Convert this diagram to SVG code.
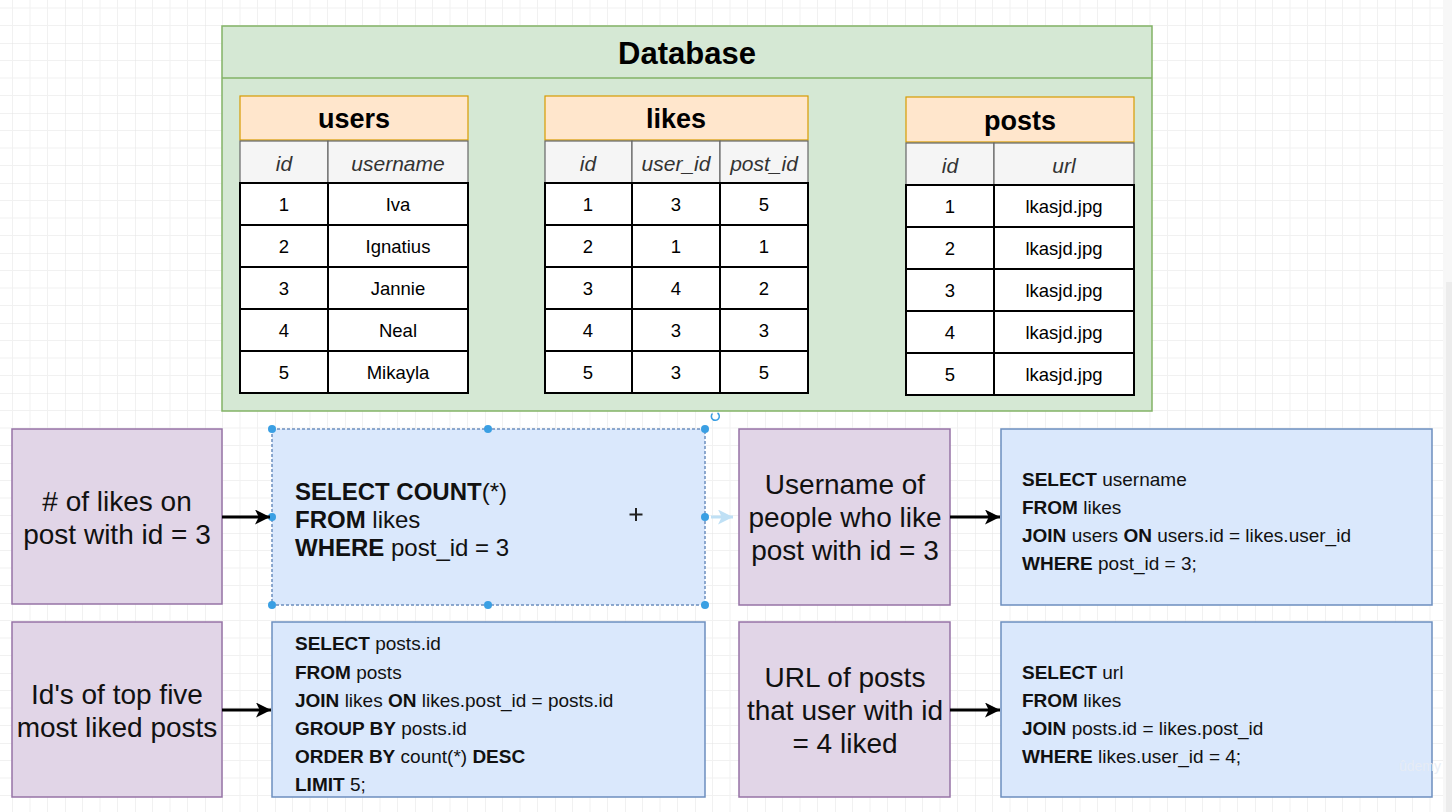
<svg xmlns="http://www.w3.org/2000/svg" width="1452" height="812" viewBox="0 0 1452 812">
<defs>
  <pattern id="grid" x="65" y="43" width="70" height="70" patternUnits="userSpaceOnUse">
    <path d="M17.5 0V70M35 0V70M52.5 0V70M0 17.5H70M0 35H70M0 52.5H70" stroke="#f1f1f1" stroke-width="1" fill="none"/>
    <path d="M0 0V70M0 0H70" stroke="#e4e4e4" stroke-width="1" fill="none"/>
  </pattern>
  <marker id="arr" viewBox="0 0 10 10" refX="10" refY="5" markerWidth="5" markerHeight="5" orient="auto" markerUnits="strokeWidth">
    <path d="M0 0L10 5L0 10L2.5 5Z" fill="#000"/>
  </marker>
  <marker id="arrl" viewBox="0 0 10 10" refX="10" refY="5" markerWidth="5" markerHeight="5" orient="auto" markerUnits="strokeWidth">
    <path d="M0 0L10 5L0 10L2.5 5Z" fill="#bfe0f5"/>
  </marker>
</defs>
<style>
  .t{font-family:"Liberation Sans",Arial,sans-serif;}
  .db{fill:#d5e8d4;stroke:#82b366;stroke-width:1.5;}
  .th{fill:#ffe6cc;stroke:#d79b00;stroke-width:1.2;}
  .ch{fill:#f5f5f5;stroke:#666;stroke-width:1.2;}
  .cell{fill:#fff;stroke:#000;stroke-width:2;}
  .ttl{font-family:"Liberation Sans",Arial,sans-serif;font-weight:bold;font-size:27px;text-anchor:middle;fill:#000;}
  .hd{font-family:"Liberation Sans",Arial,sans-serif;font-style:italic;font-size:21px;text-anchor:middle;fill:#333;}
  .dt{font-family:"Liberation Sans",Arial,sans-serif;font-size:18.5px;text-anchor:middle;fill:#000;}
  .q{fill:#e1d5e7;stroke:#9673a6;stroke-width:1.5;}
  .qt{font-family:"Liberation Sans",Arial,sans-serif;font-size:28px;text-anchor:middle;fill:#111;}
  .s{fill:#dae8fc;stroke:#6c8ebf;stroke-width:1.5;}
  .sql{font-family:"Liberation Sans",Arial,sans-serif;font-size:19px;fill:#111;}
  .sqlb{font-family:"Liberation Sans",Arial,sans-serif;font-size:24px;fill:#111;}
  .b{font-weight:bold;}
  .con{stroke:#000;stroke-width:3;fill:none;}
  .hdl{fill:#3a9fe3;}
</style>
<rect width="1452" height="812" fill="#fff"/>
<rect width="1452" height="812" fill="url(#grid)"/>
<rect x="1443" y="0" width="9" height="812" fill="#f7f7f7"/>
<rect x="1446" y="282" width="6" height="530" fill="#ececec"/>

<g id="database">
  <rect class="db" x="222" y="26" width="930" height="385"/>
  <line x1="222" y1="78" x2="1152" y2="78" stroke="#82b366" stroke-width="1.5"/>
  <text class="t" x="687" y="64" font-size="31" font-weight="bold" text-anchor="middle" fill="#000">Database</text>
</g>

<g id="users">
  <rect class="th" x="240" y="96" width="228" height="44"/>
  <text class="ttl" x="354" y="128">users</text>
  <rect class="ch" x="240" y="141" width="88" height="42"/>
  <rect class="ch" x="328" y="141" width="140" height="42"/>
  <text class="hd" x="284" y="171">id</text>
  <text class="hd" x="398" y="171">username</text>
  <g>
    <rect class="cell" x="240" y="183" width="88" height="42"/><rect class="cell" x="328" y="183" width="140" height="42"/>
    <rect class="cell" x="240" y="225" width="88" height="42"/><rect class="cell" x="328" y="225" width="140" height="42"/>
    <rect class="cell" x="240" y="267" width="88" height="42"/><rect class="cell" x="328" y="267" width="140" height="42"/>
    <rect class="cell" x="240" y="309" width="88" height="42"/><rect class="cell" x="328" y="309" width="140" height="42"/>
    <rect class="cell" x="240" y="351" width="88" height="42"/><rect class="cell" x="328" y="351" width="140" height="42"/>
  </g>
  <text class="dt" x="284" y="211">1</text><text class="dt" x="398" y="211">Iva</text>
  <text class="dt" x="284" y="253">2</text><text class="dt" x="398" y="253">Ignatius</text>
  <text class="dt" x="284" y="295">3</text><text class="dt" x="398" y="295">Jannie</text>
  <text class="dt" x="284" y="337">4</text><text class="dt" x="398" y="337">Neal</text>
  <text class="dt" x="284" y="379">5</text><text class="dt" x="398" y="379">Mikayla</text>
</g>

<g id="likes">
  <rect class="th" x="545" y="96" width="263" height="44"/>
  <text class="ttl" x="676" y="128">likes</text>
  <rect class="ch" x="545" y="141" width="87" height="42"/>
  <rect class="ch" x="632" y="141" width="88" height="42"/>
  <rect class="ch" x="720" y="141" width="88" height="42"/>
  <text class="hd" x="588" y="171">id</text>
  <text class="hd" x="676" y="171">user_id</text>
  <text class="hd" x="764" y="171">post_id</text>
  <g>
    <rect class="cell" x="545" y="183" width="87" height="42"/><rect class="cell" x="632" y="183" width="88" height="42"/><rect class="cell" x="720" y="183" width="88" height="42"/>
    <rect class="cell" x="545" y="225" width="87" height="42"/><rect class="cell" x="632" y="225" width="88" height="42"/><rect class="cell" x="720" y="225" width="88" height="42"/>
    <rect class="cell" x="545" y="267" width="87" height="42"/><rect class="cell" x="632" y="267" width="88" height="42"/><rect class="cell" x="720" y="267" width="88" height="42"/>
    <rect class="cell" x="545" y="309" width="87" height="42"/><rect class="cell" x="632" y="309" width="88" height="42"/><rect class="cell" x="720" y="309" width="88" height="42"/>
    <rect class="cell" x="545" y="351" width="87" height="42"/><rect class="cell" x="632" y="351" width="88" height="42"/><rect class="cell" x="720" y="351" width="88" height="42"/>
  </g>
  <text class="dt" x="588" y="211">1</text><text class="dt" x="676" y="211">3</text><text class="dt" x="764" y="211">5</text>
  <text class="dt" x="588" y="253">2</text><text class="dt" x="676" y="253">1</text><text class="dt" x="764" y="253">1</text>
  <text class="dt" x="588" y="295">3</text><text class="dt" x="676" y="295">4</text><text class="dt" x="764" y="295">2</text>
  <text class="dt" x="588" y="337">4</text><text class="dt" x="676" y="337">3</text><text class="dt" x="764" y="337">3</text>
  <text class="dt" x="588" y="379">5</text><text class="dt" x="676" y="379">3</text><text class="dt" x="764" y="379">5</text>
</g>

<g id="posts">
  <rect class="th" x="906" y="97" width="228" height="45"/>
  <text class="ttl" x="1020" y="130">posts</text>
  <rect class="ch" x="906" y="143" width="88" height="42"/>
  <rect class="ch" x="994" y="143" width="140" height="42"/>
  <text class="hd" x="950" y="173">id</text>
  <text class="hd" x="1064" y="173">url</text>
  <g>
    <rect class="cell" x="906" y="185" width="88" height="42"/><rect class="cell" x="994" y="185" width="140" height="42"/>
    <rect class="cell" x="906" y="227" width="88" height="42"/><rect class="cell" x="994" y="227" width="140" height="42"/>
    <rect class="cell" x="906" y="269" width="88" height="42"/><rect class="cell" x="994" y="269" width="140" height="42"/>
    <rect class="cell" x="906" y="311" width="88" height="42"/><rect class="cell" x="994" y="311" width="140" height="42"/>
    <rect class="cell" x="906" y="353" width="88" height="42"/><rect class="cell" x="994" y="353" width="140" height="42"/>
  </g>
  <text class="dt" x="950" y="213">1</text><text class="dt" x="1064" y="213">lkasjd.jpg</text>
  <text class="dt" x="950" y="255">2</text><text class="dt" x="1064" y="255">lkasjd.jpg</text>
  <text class="dt" x="950" y="297">3</text><text class="dt" x="1064" y="297">lkasjd.jpg</text>
  <text class="dt" x="950" y="339">4</text><text class="dt" x="1064" y="339">lkasjd.jpg</text>
  <text class="dt" x="950" y="381">5</text><text class="dt" x="1064" y="381">lkasjd.jpg</text>
</g>

<g id="q1">
  <rect class="q" x="12" y="429" width="210" height="175"/>
  <text class="qt" x="117" y="511"># of likes on</text>
  <text class="qt" x="117" y="544">post with id = 3</text>
</g>
<g id="s1">
  <rect class="s" x="272" y="429" width="433" height="176" stroke-dasharray="3 2"/>
  <text class="sqlb" x="295" y="500"><tspan class="b">SELECT COUNT</tspan>(*)</text>
  <text class="sqlb" x="295" y="528"><tspan class="b">FROM</tspan> likes</text>
  <text class="sqlb" x="295" y="556"><tspan class="b">WHERE</tspan> post_id = 3</text>
  <circle class="hdl" cx="272" cy="429" r="4"/><circle class="hdl" cx="488" cy="429" r="4"/><circle class="hdl" cx="705" cy="429" r="4"/>
  <circle class="hdl" cx="272" cy="517" r="4"/><circle class="hdl" cx="705" cy="517" r="4"/>
  <circle class="hdl" cx="272" cy="605" r="4"/><circle class="hdl" cx="488" cy="605" r="4"/><circle class="hdl" cx="705" cy="605" r="4"/>
  <path d="M712.5 413.5 A4 4 0 1 0 717.5 413" stroke="#3a9fe3" stroke-width="1.5" fill="none"/>
  <path d="M636 508V521M629.5 514.5H642.5" stroke="#222" stroke-width="2"/>
</g>
<g id="q2">
  <rect class="q" x="739" y="429" width="211" height="176"/>
  <text class="qt" x="845" y="494">Username of</text>
  <text class="qt" x="845" y="527">people who like</text>
  <text class="qt" x="845" y="560">post with id = 3</text>
</g>
<g id="s2">
  <rect class="s" x="1001" y="429" width="431" height="176"/>
  <text class="sql" x="1022" y="486"><tspan class="b">SELECT</tspan> username</text>
  <text class="sql" x="1022" y="514"><tspan class="b">FROM</tspan> likes</text>
  <text class="sql" x="1022" y="542"><tspan class="b">JOIN</tspan> users <tspan class="b">ON</tspan> users.id = likes.user_id</text>
  <text class="sql" x="1022" y="570"><tspan class="b">WHERE</tspan> post_id = 3;</text>
</g>
<g id="q3">
  <rect class="q" x="12" y="622" width="210" height="175"/>
  <text class="qt" x="117" y="704">Id's of top five</text>
  <text class="qt" x="117" y="737">most liked posts</text>
</g>
<g id="s3">
  <rect class="s" x="272" y="622" width="433" height="175"/>
  <text class="sql" x="295" y="650"><tspan class="b">SELECT</tspan> posts.id</text>
  <text class="sql" x="295" y="679"><tspan class="b">FROM</tspan> posts</text>
  <text class="sql" x="295" y="707"><tspan class="b">JOIN</tspan> likes <tspan class="b">ON</tspan> likes.post_id = posts.id</text>
  <text class="sql" x="295" y="735"><tspan class="b">GROUP BY</tspan> posts.id</text>
  <text class="sql" x="295" y="763"><tspan class="b">ORDER BY</tspan> count(*) <tspan class="b">DESC</tspan></text>
  <text class="sql" x="295" y="791"><tspan class="b">LIMIT</tspan> 5;</text>
</g>
<g id="q4">
  <rect class="q" x="739" y="622" width="211" height="175"/>
  <text class="qt" x="845" y="687">URL of posts</text>
  <text class="qt" x="845" y="720">that user with id</text>
  <text class="qt" x="845" y="753">= 4 liked</text>
</g>
<g id="s4">
  <rect class="s" x="1001" y="622" width="431" height="175"/>
  <text class="sql" x="1022" y="679"><tspan class="b">SELECT</tspan> url</text>
  <text class="sql" x="1022" y="707"><tspan class="b">FROM</tspan> likes</text>
  <text class="sql" x="1022" y="735"><tspan class="b">JOIN</tspan> posts.id = likes.post_id</text>
  <text class="sql" x="1022" y="763"><tspan class="b">WHERE</tspan> likes.user_id = 4;</text>
</g>

<g id="connectors">
  <line class="con" x1="222" y1="517" x2="270" y2="517" marker-end="url(#arr)"/>
  <line class="con" x1="950" y1="517" x2="1000" y2="517" marker-end="url(#arr)"/>
  <line class="con" x1="222" y1="710" x2="271" y2="710" marker-end="url(#arr)"/>
  <line class="con" x1="950" y1="710" x2="1000" y2="710" marker-end="url(#arr)"/>
  <line x1="711" y1="517" x2="733" y2="517" stroke="#bfe0f5" stroke-width="3" marker-end="url(#arrl)"/>
</g>
<text class="t" x="1420" y="771" font-size="14" text-anchor="middle" fill="#e8edf5" opacity="0.9">ûdemy</text>
</svg>
